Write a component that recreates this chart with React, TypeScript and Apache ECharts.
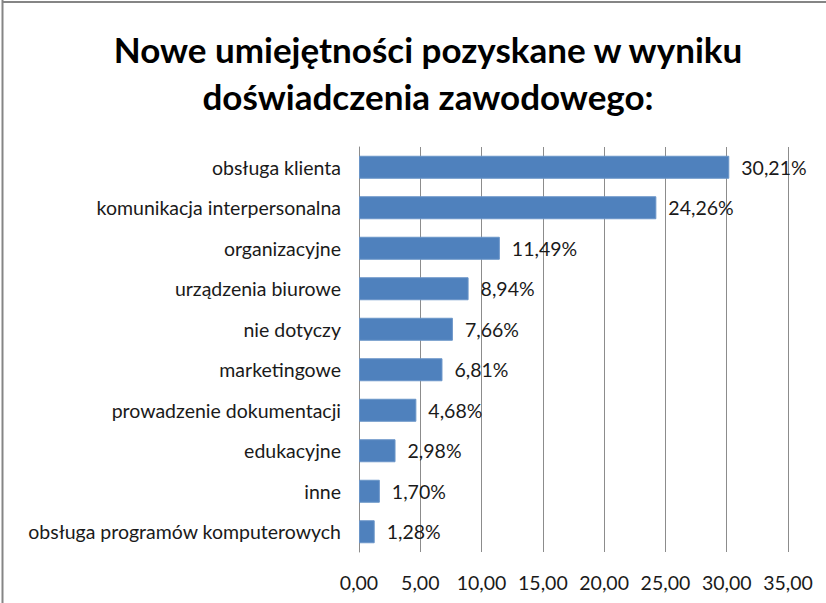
import React, { useEffect, useRef } from "react";
import * as echarts from "echarts";

const categories = [
  "obsługa klienta",
  "komunikacja interpersonalna",
  "organizacyjne",
  "urządzenia biurowe",
  "nie dotyczy",
  "marketingowe",
  "prowadzenie dokumentacji",
  "edukacyjne",
  "inne",
  "obsługa programów komputerowych",
];
const values = [30.21, 24.26, 11.49, 8.94, 7.66, 6.81, 4.68, 2.98, 1.7, 1.28];
const titleLines = ["Nowe umiejętności pozyskane w wyniku", "doświadczenia zawodowego:"];
const axisMin = 0;
const axisMax = 35;
const axisStep = 5;

const FONT = "Lato";

export default function App() {
  const ref = useRef<HTMLDivElement>(null);
  useEffect(() => {
    if (!ref.current) return;
    document.body.style.margin = "0";
    const chart = echarts.init(ref.current, undefined, { renderer: "svg" });
    chart.setOption({
      animation: false,
      backgroundColor: "#ffffff",
      graphic: [
        {
          type: "line",
          shape: { x1: 2.5, y1: 0, x2: 2.5, y2: 603 },
          style: { stroke: "#858585", lineWidth: 2 },
        },
        {
          type: "line",
          shape: { x1: 2, y1: 2, x2: 826, y2: 2 },
          style: { stroke: "#858585", lineWidth: 2 },
        },
        ...titleLines.map((t, i) => ({
          type: "text",
          x: 428,
          y: 49 + i * 47,
          style: {
            text: t,
            align: "center",
            verticalAlign: "middle",
            fontFamily: FONT,
            fontSize: 35,
            fontWeight: "bold",
            fill: "#000000",
          },
        })),
      ],
      grid: { left: 359, right: 38, top: 147, bottom: 51, containLabel: false },
      xAxis: {
        type: "value",
        min: axisMin,
        max: axisMax,
        interval: axisStep,
        axisLine: { show: false },
        axisTick: { show: false },
        splitLine: { show: true, lineStyle: { color: "#8c8c8c", width: 1 } },
        axisLabel: {
          margin: 20,
          fontFamily: FONT,
          fontSize: 19.5,
          color: "#1a1a1a",
          formatter: (v: number) => v.toFixed(2).replace(".", ","),
        },
      },
      yAxis: {
        type: "category",
        data: categories,
        inverse: true,
        axisLine: { show: true, lineStyle: { color: "#8c8c8c", width: 1 } },
        axisTick: { show: false },
        axisLabel: {
          margin: 18,
          fontFamily: FONT,
          fontSize: 19.5,
          color: "#1a1a1a",
        },
      },
      series: [
        {
          type: "bar",
          data: values,
          barWidth: 23,
          itemStyle: { color: "#4F81BD", borderColor: "#6a95c8", borderWidth: 1 },
          label: {
            show: true,
            position: "right",
            distance: 12,
            fontFamily: FONT,
            fontSize: 19.5,
            color: "#1a1a1a",
            formatter: (p: any) => p.value.toFixed(2).replace(".", ",") + "%",
          },
        },
      ],
    });
    return () => chart.dispose();
  }, []);
  return <div ref={ref} style={{ width: 826, height: 603 }} />;
}
